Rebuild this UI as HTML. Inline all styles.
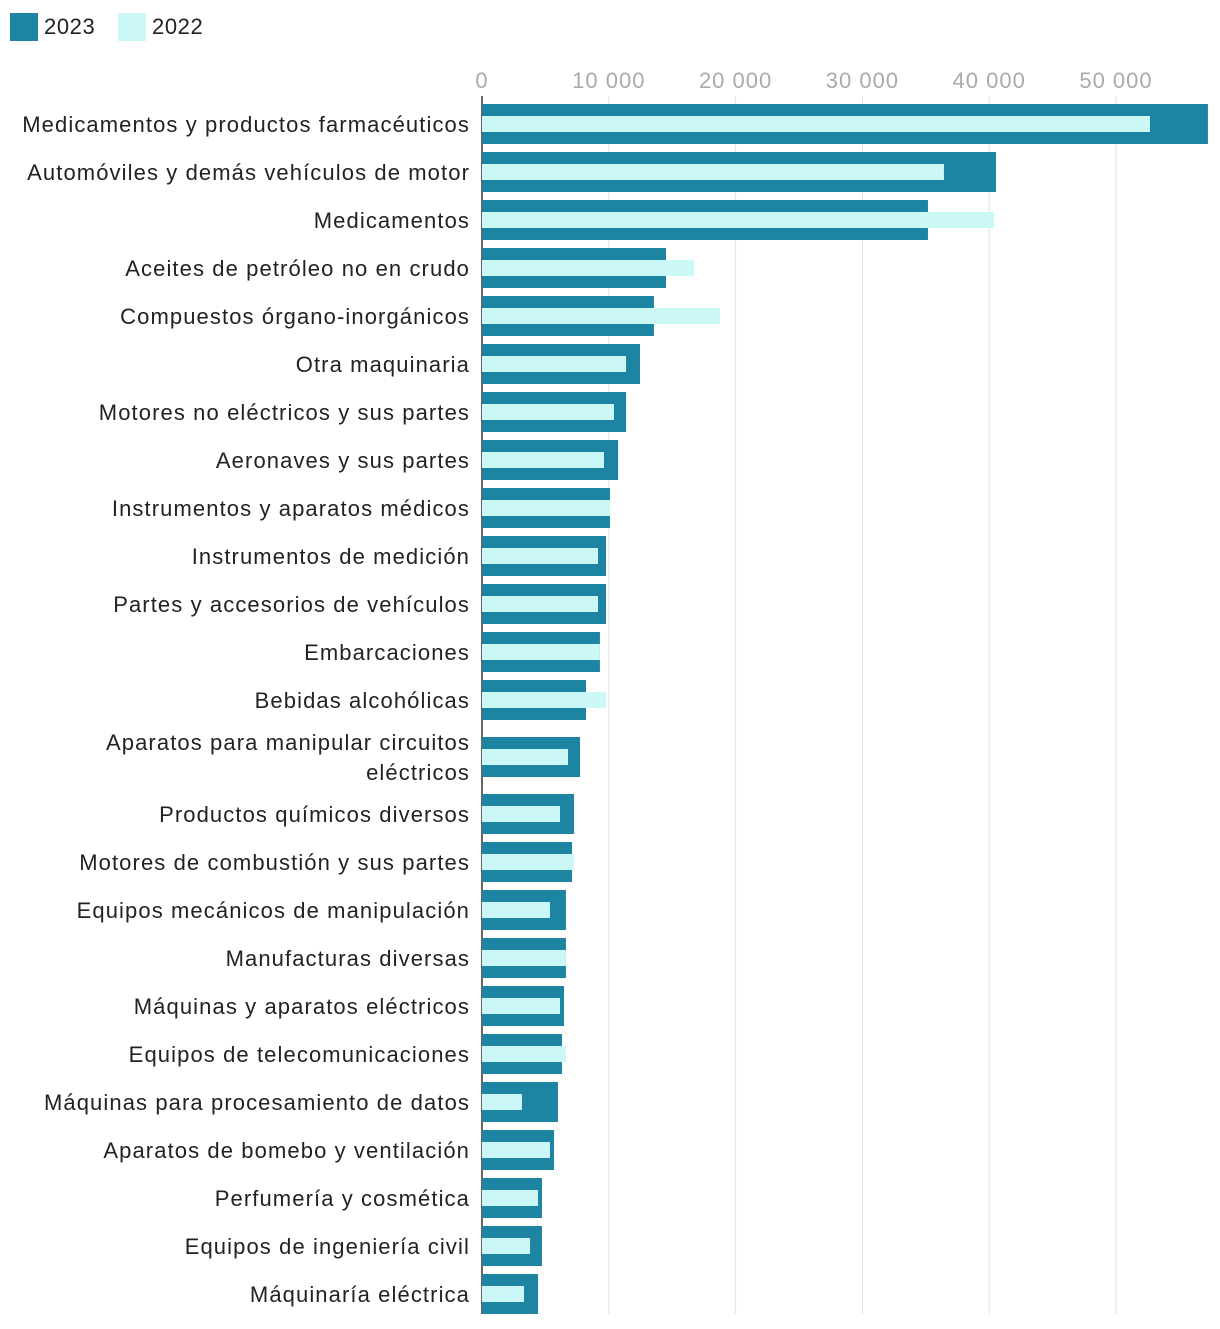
<!DOCTYPE html>
<html><head><meta charset="utf-8"><style>
body{margin:0;background:#fff;font-family:"Liberation Sans",sans-serif;}
svg text{font-family:"Liberation Sans",sans-serif;}
</style></head><body>
<svg id="chart" width="1220" height="1324" xmlns="http://www.w3.org/2000/svg">
<g>
<rect x="10" y="13" width="28" height="28" fill="#1d84a2"/>
<text x="44" y="34" font-size="22" letter-spacing="0.6" fill="#222">2023</text>
<rect x="118" y="13" width="28" height="28" fill="#cbf7f7"/>
<text x="152" y="34" font-size="22" letter-spacing="0.6" fill="#222">2022</text>
</g>
<g id="grid"></g><g id="bars"></g><g id="labels"></g>
</svg>
<script>
const categories=["Medicamentos y productos farmacéuticos","Automóviles y demás vehículos de motor","Medicamentos","Aceites de petróleo no en crudo","Compuestos órgano-inorgánicos","Otra maquinaria","Motores no eléctricos y sus partes","Aeronaves y sus partes","Instrumentos y aparatos médicos","Instrumentos de medición","Partes y accesorios de vehículos","Embarcaciones","Bebidas alcohólicas","Aparatos para manipular circuitos|eléctricos","Productos químicos diversos","Motores de combustión y sus partes","Equipos mecánicos de manipulación","Manufacturas diversas","Máquinas y aparatos eléctricos","Equipos de telecomunicaciones","Máquinas para procesamiento de datos","Aparatos de bomebo y ventilación","Perfumería y cosmética","Equipos de ingeniería civil","Máquinaría eléctrica"];
const values2023=[57250,40540,35170,14510,13560,12460,11360,10730,10090,9780,9780,9300,8200,7730,7260,7100,6620,6620,6470,6310,5990,5680,4730,4730,4420];
const values2022=[52680,36430,40380,16720,18770,11360,10410,9620,10090,9150,9150,9300,9780,6780,6150,7260,5360,6620,6150,6620,3150,5360,4420,3790,3310];
const ticks=[0,10000,20000,30000,40000,50000];
const tickLabels=["0","10 000","20 000","30 000","40 000","50 000"];
const NS="http://www.w3.org/2000/svg";
const x=v=>482+v*0.01268;
function rowY(i){return 124+i*48+(i>=13?9:0)+(i>=14?9:0);}
function mk(tag,attrs,parent){const e=document.createElementNS(NS,tag);for(const k in attrs)e.setAttribute(k,attrs[k]);parent.appendChild(e);return e;}
const grid=document.getElementById('grid'),bars=document.getElementById('bars'),labels=document.getElementById('labels');
ticks.forEach((t,i)=>{
 const l=mk('line',{x1:x(t),x2:x(t),y1:96,y2:1314,stroke:i==0?'#333':'#e2e2e2','stroke-width':i==0?1.5:1},grid);
 
 
 const tx=mk('text',{x:x(t),y:88,'text-anchor':'middle','font-size':22,'letter-spacing':1,fill:'#aaa'},grid);
 tx.textContent=tickLabels[i];
 
 
});
categories.forEach((c,i)=>{
 const cy=rowY(i);
 const b1=mk('rect',{x:x(0),y:cy-20,width:x(values2023[i])-x(0),height:40,fill:'#1d84a2'},bars);
 
 
 const b2=mk('rect',{x:x(0),y:cy-8,width:x(values2022[i])-x(0),height:16,fill:'#cbf7f7'},bars);
 
 
 const parts=c.split('|');
 const t=mk('text',{x:470,y:cy+8-(parts.length-1)*15,'text-anchor':'end','font-size':22,'letter-spacing':1.1,fill:'#222'},labels);
 
 
 parts.forEach((p,j)=>{const s=mk('tspan',{x:470,dy:j?30:0},t);s.textContent=p;});
});
</script>
</body></html>
